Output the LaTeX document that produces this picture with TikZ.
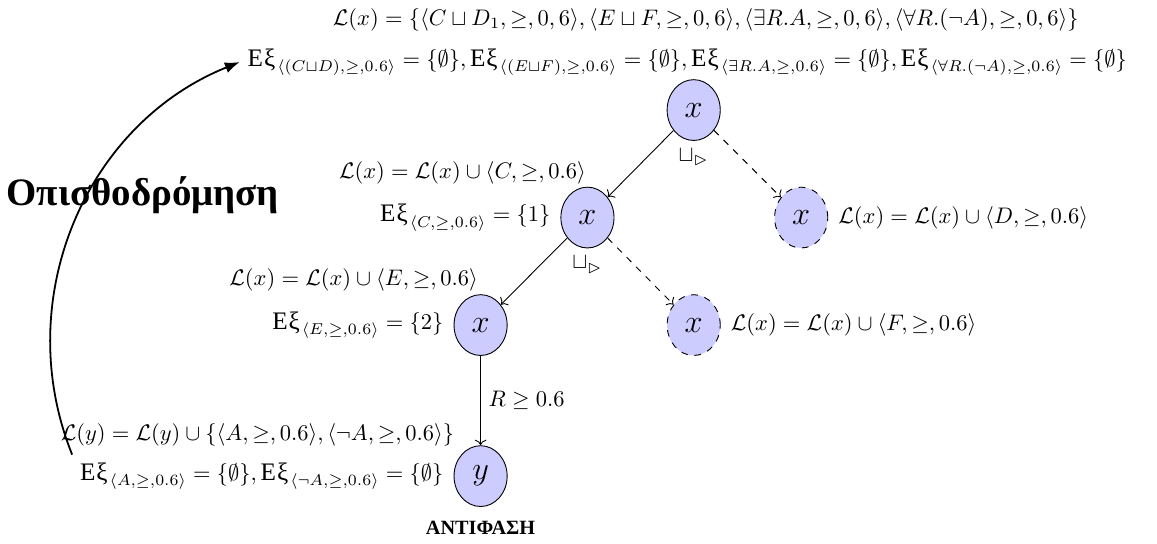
\documentclass[tikz,border=0pt]{standalone}
\usepackage{amsmath,amssymb}
\usepackage{fontspec}
\newfontfamily\grk{Liberation Serif}
\newfontfamily\grkmath{Liberation Serif}[Scale=1.12]
\usepackage{tikz}
\usetikzlibrary{arrows.meta,calc,shapes.geometric,positioning}

\newcommand{\Ex}{\mbox{\grkmath Ε\kern0.04em ξ\kern0.08em}}

\begin{document}
\begin{tikzpicture}[>=To,
  indiv/.style={draw, ellipse, fill=blue!20, minimum width=0.83cm,
                minimum height=0.95cm, inner sep=1pt, font=\Large},
  ghost/.style={indiv, dashed},
  link/.style={->},
  altlink/.style={->, dashed}]

\useasboundingbox (-10.84, 1.72) rectangle (7.24, -6.78);

% ---- Completion tree ----
\node[indiv] (root) at (0, 0)          {$x$};
\node[indiv] (c1)   at (-1.66, -1.68)  {$x$};
\node[ghost] (d1)   at (1.68, -1.68)   {$x$};
\node[indiv] (e1)   at (-3.33, -3.36)  {$x$};
\node[ghost] (f1)   at (0, -3.36)      {$x$};
\node[indiv] (y1)   at (-3.33, -5.72)  {$y$};

\draw[link]    (root) -- (c1);
\draw[altlink] (root) -- (d1);
\draw[link]    (c1) -- (e1);
\draw[altlink] (c1) -- (f1);
\draw[link]    (e1) -- (y1) node[midway, right] {$R \geq 0.6$};

% ---- Disjunction marks ----
\node[below=0pt of root] (or0) {$\sqcup_{\rhd}$};
\node[below=0pt of c1]   (or1) {$\sqcup_{\rhd}$};

% ---- Root labels ----
\node (lx0) at (0.19, 1.41)
  {$\mathcal{L}(x) = \{\langle C \sqcup D_1, \geq, 0,6\rangle, \langle E \sqcup F, \geq, 0,6\rangle, \langle \exists R.A, \geq, 0,6\rangle, \langle \forall R.(\neg A), \geq, 0,6\rangle\}$};
\node (ex0) at (-0.1, 0.75)
  {$\Ex_{\langle (C\sqcup D), \geq, 0.6\rangle} = \{\emptyset\}, \Ex_{\langle (E\sqcup F), \geq, 0.6\rangle} = \{\emptyset\}, \Ex_{\langle \exists R.A, \geq, 0.6\rangle} = \{\emptyset\}, \Ex_{\langle \forall R.(\neg A), \geq, 0.6\rangle} = \{\emptyset\}$};

% ---- Labels of the branches ----
\node[anchor=east] (lxc) at ($(c1)+(0.1, 0.7)$)
  {$\mathcal{L}(x) = \mathcal{L}(x) \cup \langle C, \geq, 0.6\rangle$};
\node[left=1pt of c1] (exc) {$\Ex_{\langle C, \geq, 0.6\rangle} = \{1\}$};
\node[right=1pt of d1] (lxd)
  {$\mathcal{L}(x) = \mathcal{L}(x) \cup \langle D, \geq, 0.6\rangle$};

\node[anchor=east] (lxe) at ($(e1)+(0.08, 0.7)$)
  {$\mathcal{L}(x) = \mathcal{L}(x) \cup \langle E, \geq, 0.6\rangle$};
\node[left=1pt of e1] (exe) {$\Ex_{\langle E, \geq, 0.6\rangle} = \{2\}$};
\node[right=1pt of f1] (lxf)
  {$\mathcal{L}(x) = \mathcal{L}(x) \cup \langle F, \geq, 0.6\rangle$};

\node[anchor=east] (lyy) at ($(y1)+(-0.29, 0.64)$)
  {$\mathcal{L}(y) = \mathcal{L}(y) \cup \{\langle A, \geq, 0.6\rangle, \langle \neg A, \geq, 0.6\rangle\}$};
\node[left=1pt of y1] (exy)
  {$\Ex_{\langle A, \geq, 0.6\rangle} = \{\emptyset\}, \Ex_{\langle \neg A, \geq, 0.6\rangle} = \{\emptyset\}$};

\node[below=0.1cm of y1, font=\small\grk\bfseries] (clash) {ΑΝΤΙΦΑΣΗ};

% ---- Backtracking ----
\draw[-{Latex}, thick] (exy.north west) to[bend left=45] (ex0.west);
\node[font=\LARGE\grk\bfseries] (back) at (-8.61, -1.33) {Οπισθοδρόμηση};

\end{tikzpicture}
\end{document}
